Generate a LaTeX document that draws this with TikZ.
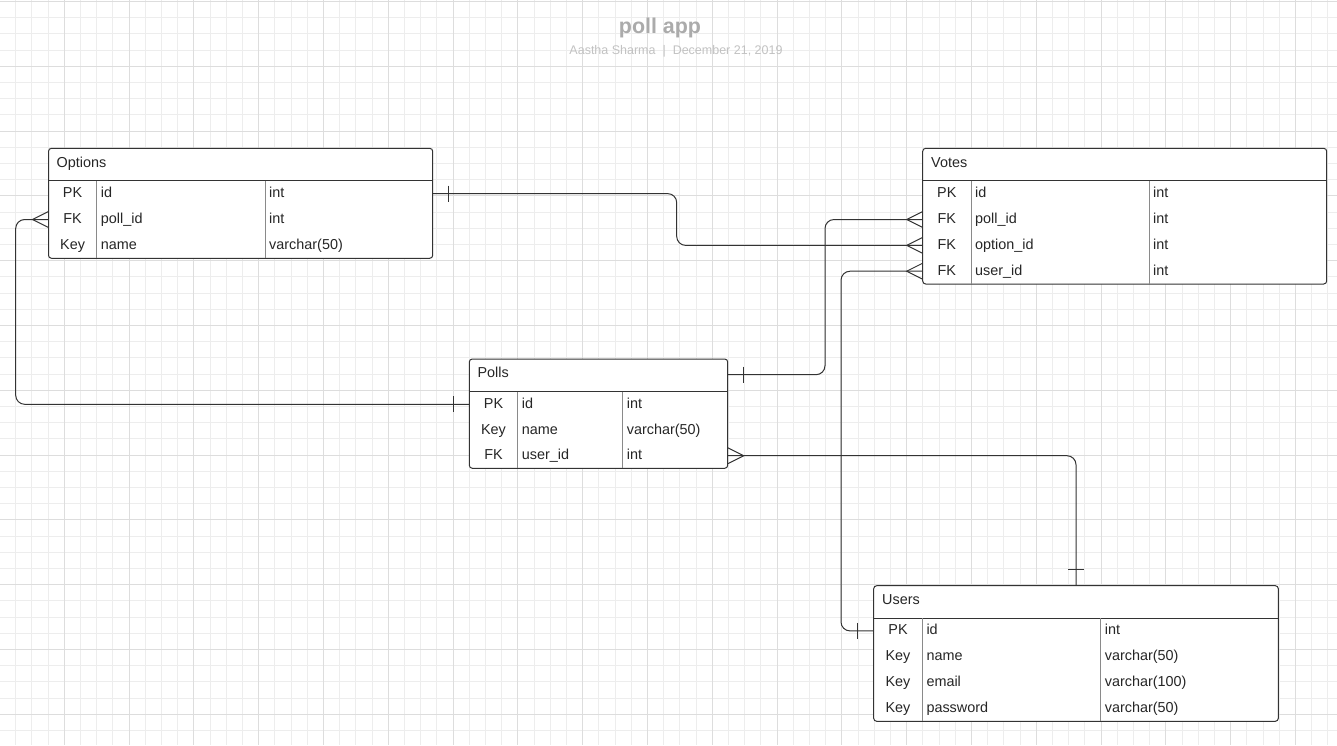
\documentclass[tikz,border=0pt]{standalone}
\usepackage{fontspec}
\setmainfont{Liberation Sans}
\definecolor{ink}{HTML}{262626}
\definecolor{border}{HTML}{333333}
\definecolor{divcol}{HTML}{8A8A8A}
\definecolor{gridminor}{HTML}{EDEDED}
\definecolor{gridmajor}{HTML}{DDDDDD}
\definecolor{titlecol}{HTML}{ABABAB}
\definecolor{subcol}{HTML}{C2C2C2}
\tikzset{
  minorgrid/.style={draw=gridminor, line width=0.9pt},
  majorgrid/.style={draw=gridmajor, line width=1pt},
  tablebox/.style={draw=border, line width=1pt, rounded corners=3pt, fill=white, inner sep=0pt, outer sep=0pt, anchor=north west},
  hdrsep/.style={draw=border, line width=1pt},
  coldiv/.style={draw=divcol, line width=1pt},
  tfont/.style={font=\fontsize{14.4}{16}\selectfont, text=ink, inner sep=0pt},
  hdrtxt/.style={tfont, anchor=base west},
  keytxt/.style={tfont, anchor=base},
  celltxt/.style={tfont, anchor=base west},
  conn/.style={draw=border, line width=1pt, rounded corners=9pt},
  markline/.style={draw=border, line width=1pt},
  crowL/.pic={\draw[markline] (0,-8) -- (-16,0) -- (0,8);},
  crowR/.pic={\draw[markline] (0,-8) -- (16,0) -- (0,8);},
  barL/.pic={\draw[markline] (-16,-8) -- (-16,8);},
  barR/.pic={\draw[markline] (16,-8) -- (16,8);},
  barT/.pic={\draw[markline] (-8,-16) -- (8,-16);},
}
\begin{document}
\begin{tikzpicture}[x=1pt,y=-1pt]
\useasboundingbox (0,0) rectangle (1337,745);
\fill[white] (0,0) rectangle (1337,745);
\begin{scope}
\clip (0,0) rectangle (1337,745);
\foreach \k in {0,...,83} {\draw[minorgrid] ({-0.5+16.2*\k},0) -- ++(0,745);}
\foreach \k in {0,...,46} {\draw[minorgrid] (0,{1.4+16.2*\k}) -- ++(1337,0);}
\foreach \k in {0,...,21} {\draw[majorgrid] ({-0.5+64.8*\k},0) -- ++(0,745);}
\foreach \k in {0,...,11} {\draw[majorgrid] (0,{1.4+64.8*\k}) -- ++(1337,0);}
\end{scope}

% title
\node[anchor=base, inner sep=0pt, text=titlecol, font=\fontsize{21.4}{24}\selectfont\bfseries] (title) at (660,33) {poll app};
\node[anchor=base, inner sep=0pt, text=subcol, font=\fontsize{12.5}{14}\selectfont] (subtitle) at (676,54.3) {Aastha Sharma\ \ |\ \ December 21, 2019};

% ---------- Options ----------
\node[tablebox, minimum width=384.2pt, minimum height=110pt] (opt) at (48.5,148.3) {};
\draw[hdrsep] (48.5,180.7) -- (432.7,180.7);
\draw[coldiv] (96.7,180.7) -- (96.7,258.3);
\draw[coldiv] (265,180.7) -- (265,258.3);
\node[hdrtxt] (opt-title) at (56.5,167.3) {Options};
\coordinate (opt-r1) at (48.5,193.6);
\coordinate (opt-r2) at (48.5,219.5);
\coordinate (opt-r3) at (48.5,245.4);
\node[keytxt] (opt-k1) at (72.6,197.6) {PK};
\node[celltxt] (opt-n1) at (100.7,197.6) {id};
\node[celltxt] (opt-t1) at (269,197.6) {int};
\node[keytxt] (opt-k2) at (72.6,223.5) {FK};
\node[celltxt] (opt-n2) at (100.7,223.5) {poll\_id};
\node[celltxt] (opt-t2) at (269,223.5) {int};
\node[keytxt] (opt-k3) at (72.6,249.4) {Key};
\node[celltxt] (opt-n3) at (100.7,249.4) {name};
\node[celltxt] (opt-t3) at (269,249.4) {varchar(50)};

% ---------- Votes ----------
\node[tablebox, minimum width=404pt, minimum height=135.7pt] (vot) at (922.7,148.3) {};
\draw[hdrsep] (922.7,180.7) -- (1326.7,180.7);
\draw[coldiv] (971,180.7) -- (971,284);
\draw[coldiv] (1149,180.7) -- (1149,284);
\node[hdrtxt] (vot-title) at (931,167.3) {Votes};
\coordinate (vot-r1) at (922.7,193.6);
\coordinate (vot-r2) at (922.7,219.5);
\coordinate (vot-r3) at (922.7,245.4);
\coordinate (vot-r4) at (922.7,271.2);
\node[keytxt] (vot-k1) at (946.8,197.6) {PK};
\node[celltxt] (vot-n1) at (975,197.6) {id};
\node[celltxt] (vot-t1) at (1153,197.6) {int};
\node[keytxt] (vot-k2) at (946.8,223.5) {FK};
\node[celltxt] (vot-n2) at (975,223.5) {poll\_id};
\node[celltxt] (vot-t2) at (1153,223.5) {int};
\node[keytxt] (vot-k3) at (946.8,249.4) {FK};
\node[celltxt] (vot-n3) at (975,249.4) {option\_id};
\node[celltxt] (vot-t3) at (1153,249.4) {int};
\node[keytxt] (vot-k4) at (946.8,275.2) {FK};
\node[celltxt] (vot-n4) at (975,275.2) {user\_id};
\node[celltxt] (vot-t4) at (1153,275.2) {int};

% ---------- Polls ----------
\node[tablebox, minimum width=258.4pt, minimum height=109.3pt] (pol) at (469.3,359) {};
\draw[hdrsep] (469.3,391.5) -- (727.7,391.5);
\draw[coldiv] (517.7,391.5) -- (517.7,468.3);
\draw[coldiv] (622.7,391.5) -- (622.7,468.3);
\node[hdrtxt] (pol-title) at (477.3,377.8) {Polls};
\coordinate (pol-h) at (469.3,374.7);
\coordinate (pol-r1) at (469.3,404.3);
\coordinate (pol-r2) at (469.3,430);
\coordinate (pol-r3) at (469.3,455.7);
\node[keytxt] (pol-k1) at (493.5,408.3) {PK};
\node[celltxt] (pol-n1) at (521.7,408.3) {id};
\node[celltxt] (pol-t1) at (626.7,408.3) {int};
\node[keytxt] (pol-k2) at (493.5,434) {Key};
\node[celltxt] (pol-n2) at (521.7,434) {name};
\node[celltxt] (pol-t2) at (626.7,434) {varchar(50)};
\node[keytxt] (pol-k3) at (493.5,459.7) {FK};
\node[celltxt] (pol-n3) at (521.7,459.7) {user\_id};
\node[celltxt] (pol-t3) at (626.7,459.7) {int};

% ---------- Users ----------
\node[tablebox, minimum width=404.6pt, minimum height=135.6pt] (usr) at (873.7,585.7) {};
\draw[hdrsep] (873.7,618) -- (1278.3,618);
\draw[coldiv] (922.3,618) -- (922.3,721.3);
\draw[coldiv] (1100.7,618) -- (1100.7,721.3);
\node[hdrtxt] (usr-title) at (882,604.5) {Users};
\coordinate (usr-r1) at (873.7,630.9);
\coordinate (usr-r2) at (873.7,656.7);
\coordinate (usr-r3) at (873.7,682.6);
\coordinate (usr-r4) at (873.7,708.4);
\node[keytxt] (usr-k1) at (898,634.9) {PK};
\node[celltxt] (usr-n1) at (926.3,634.9) {id};
\node[celltxt] (usr-t1) at (1104.7,634.9) {int};
\node[keytxt] (usr-k2) at (898,660.7) {Key};
\node[celltxt] (usr-n2) at (926.3,660.7) {name};
\node[celltxt] (usr-t2) at (1104.7,660.7) {varchar(50)};
\node[keytxt] (usr-k3) at (898,686.6) {Key};
\node[celltxt] (usr-n3) at (926.3,686.6) {email};
\node[celltxt] (usr-t3) at (1104.7,686.6) {varchar(100)};
\node[keytxt] (usr-k4) at (898,712.4) {Key};
\node[celltxt] (usr-n4) at (926.3,712.4) {password};
\node[celltxt] (usr-t4) at (1104.7,712.4) {varchar(50)};

% ---------- connectors ----------
\coordinate (j1) at (676.7,0);
\coordinate (j2) at (15.7,0);
\coordinate (j3) at (825,0);
\coordinate (j4) at (841,0);
\coordinate (j5) at (1076,0);

% Options.id -> Votes.option_id
\draw[conn] (opt.east |- opt-r1) -- (j1 |- opt-r1) -- (j1 |- vot-r3) -- (vot.west |- vot-r3);
\pic at (opt.east |- opt-r1) {barR};
\pic at (vot.west |- vot-r3) {crowL};

% Options.poll_id -> Polls.id
\draw[conn] (opt.west |- opt-r2) -- (j2 |- opt-r2) -- (j2 |- pol-r1) -- (pol.west |- pol-r1);
\pic at (opt.west |- opt-r2) {crowL};
\pic at (pol.west |- pol-r1) {barL};

% Polls -> Votes.poll_id
\draw[conn] (pol.east |- pol-h) -- (j3 |- pol-h) -- (j3 |- vot-r2) -- (vot.west |- vot-r2);
\pic at (pol.east |- pol-h) {barR};
\pic at (vot.west |- vot-r2) {crowL};

% Users.id -> Votes.user_id
\draw[conn] (usr.west |- usr-r1) -- (j4 |- usr-r1) -- (j4 |- vot-r4) -- (vot.west |- vot-r4);
\pic at (usr.west |- usr-r1) {barL};
\pic at (vot.west |- vot-r4) {crowL};

% Polls.user_id -> Users
\draw[conn] (pol.east |- pol-r3) -- (j5 |- pol-r3) -- (j5 |- usr.north);
\pic at (pol.east |- pol-r3) {crowR};
\pic at (j5 |- usr.north) {barT};
\end{tikzpicture}
\end{document}
